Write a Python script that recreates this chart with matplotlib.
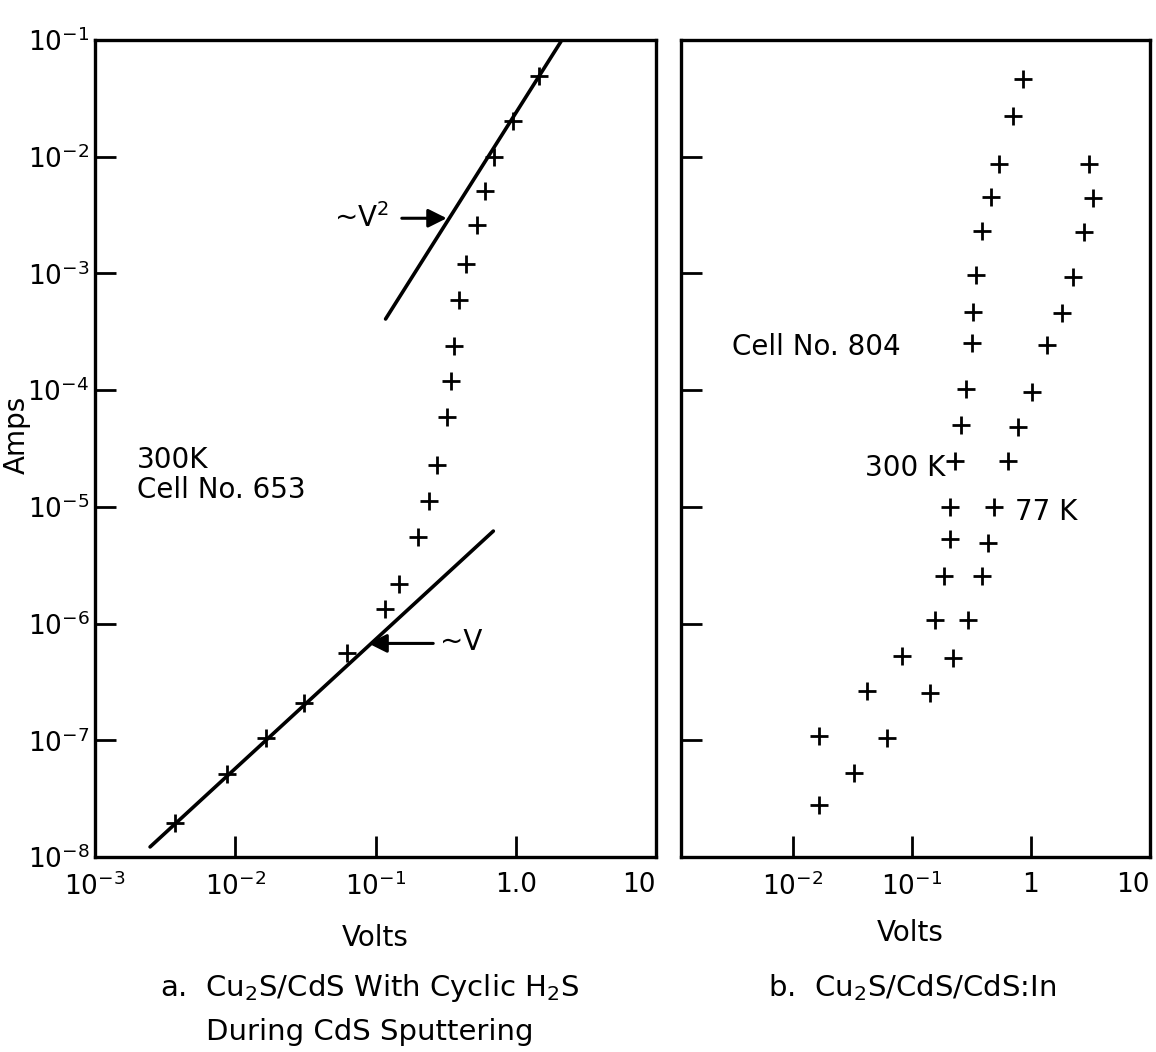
import numpy as np
import matplotlib
matplotlib.use("Agg")
import matplotlib.pyplot as plt
from matplotlib.ticker import FixedLocator, FixedFormatter, NullLocator

plt.rcParams['font.family'] = ['DejaVu Sans']
plt.rcParams['mathtext.fontset'] = 'dejavusans'

# ---------------- data: panel a (Cell No. 653, 300 K) ----------------
volts_a = [1.47, 0.957, 0.700, 0.601, 0.526, 0.441, 0.396, 0.365, 0.348, 0.321,
           0.276, 0.240, 0.200, 0.148, 0.116, 0.0628, 0.0308, 0.01655, 0.00873, 0.00373]
amps_a = [4.92e-2, 2.04e-2, 9.9e-3, 5.1e-3, 2.58e-3, 1.2e-3, 5.9e-4, 2.4e-4, 1.2e-4, 5.85e-5,
          2.28e-5, 1.12e-5, 5.5e-6, 2.2e-6, 1.33e-6, 5.6e-7, 2.07e-7, 1.04e-7, 5.13e-8, 1.94e-8]

# guide lines (end points)
v2_line_x = [0.118, 2.10]
v2_line_y = [4.07e-4, 0.097]
v1_line_x = [2.47e-3, 0.692]
v1_line_y = [1.22e-8, 6.2e-6]

# ---------------- data: panel b (Cell No. 804) ----------------
volts_300K = [0.861, 0.701, 0.538, 0.461, 0.387, 0.345, 0.324, 0.321, 0.284, 0.258,
              0.231, 0.210, 0.210, 0.187, 0.156, 0.0818, 0.0416, 0.0165]
amps_300K = [4.63e-2, 2.25e-2, 8.66e-3, 4.54e-3, 2.32e-3, 9.7e-4, 4.7e-4, 2.52e-4, 1.02e-4, 5.02e-5,
             2.48e-5, 9.9e-6, 5.27e-6, 2.57e-6, 1.07e-6, 5.3e-7, 2.65e-7, 1.09e-7]
volts_77K = [3.07, 3.34, 2.79, 2.27, 1.83, 1.37, 1.03, 0.782, 0.637, 0.492,
             0.438, 0.385, 0.297, 0.220, 0.142, 0.0612, 0.0327, 0.0165]
amps_77K = [8.66e-3, 4.40e-3, 2.25e-3, 9.4e-4, 4.55e-4, 2.43e-4, 9.7e-5, 4.8e-5, 2.48e-5, 9.9e-6,
            4.86e-6, 2.57e-6, 1.07e-6, 5.03e-7, 2.52e-7, 1.04e-7, 5.27e-8, 2.79e-8]

# ticks
y_ticks = [1e-8, 1e-7, 1e-6, 1e-5, 1e-4, 1e-3, 1e-2, 1e-1]
y_labels = [r'$10^{-8}$', r'$10^{-7}$', r'$10^{-6}$', r'$10^{-5}$',
            r'$10^{-4}$', r'$10^{-3}$', r'$10^{-2}$', r'$10^{-1}$']
xa_ticks = [1e-3, 1e-2, 1e-1, 1.0, 10.0]
xa_labels = [r'$10^{-3}$', r'$10^{-2}$', r'$10^{-1}$', '1.0', '10']
xb_ticks = [1e-2, 1e-1, 1.0, 10.0]
xb_labels = [r'$10^{-2}$', r'$10^{-1}$', '1', '10']

W, H = 1156, 1052
fig = plt.figure(figsize=(W / 100, H / 100), dpi=100)
axL = fig.add_axes([95 / W, (H - 857) / H, 561 / W, 817 / H])
axR = fig.add_axes([681 / W, (H - 857) / H, 469 / W, 817 / H])

FS = 20
FS_TICK = 19
FS_CAP = 21
for ax in (axL, axR):
    ax.set_xscale('log')
    ax.set_yscale('log')
    ax.set_ylim(1e-8, 1e-1)
    for sp in ax.spines.values():
        sp.set_linewidth(2.4)
    ax.xaxis.set_minor_locator(NullLocator())
    ax.yaxis.set_minor_locator(NullLocator())
    ax.yaxis.set_major_locator(FixedLocator(y_ticks))
    ax.tick_params(axis='both', which='major', direction='in', length=15, width=2,
                   top=False, right=False, labelsize=FS_TICK)
    ax.tick_params(axis='x', pad=11)
    ax.tick_params(axis='y', pad=4)

axL.set_xlim(1e-3, 10)
axR.set_xlim(10 ** -2.94, 10)

axL.yaxis.set_major_formatter(FixedFormatter(y_labels))
axR.yaxis.set_major_formatter(FixedFormatter([''] * len(y_ticks)))
axL.xaxis.set_major_locator(FixedLocator(xa_ticks))
axL.xaxis.set_major_formatter(FixedFormatter(xa_labels))
axR.xaxis.set_major_locator(FixedLocator(xb_ticks))
axR.xaxis.set_major_formatter(FixedFormatter(xb_labels))

mk = dict(linestyle='none', marker='+', ms=13, mew=2, color='k')

# panel a
axL.plot(v2_line_x, v2_line_y, color='k', lw=2.6, solid_capstyle='round')
axL.plot(v1_line_x, v1_line_y, color='k', lw=2.6, solid_capstyle='round')
axL.plot(volts_a, amps_a, **mk)

arrow = dict(arrowstyle='-|>', color='k', lw=2.2, mutation_scale=28, shrinkA=0, shrinkB=0)
axL.annotate('', xy=(0.322, 2.97e-3), xytext=(0.154, 2.97e-3), arrowprops=arrow)
axL.text(0.125, 2.97e-3, r'~V$^2$', fontsize=FS, ha='right', va='center')
axL.annotate('', xy=(0.0889, 6.76e-7), xytext=(0.258, 6.76e-7), arrowprops=arrow)
axL.text(0.29, 6.9e-7, '~V', fontsize=FS, ha='left', va='center')

axL.text(0.075, 0.486, '300K', transform=axL.transAxes, fontsize=FS, ha='left', va='center')
axL.text(0.075, 0.449, 'Cell No. 653', transform=axL.transAxes, fontsize=FS, ha='left', va='center')

# panel b
axR.plot(volts_300K, amps_300K, **mk)
axR.plot(volts_77K, amps_77K, **mk)
axR.text(0.108, 0.624, 'Cell No. 804', transform=axR.transAxes, fontsize=FS, ha='left', va='center')
axR.text(0.563, 0.476, '300 K', transform=axR.transAxes, fontsize=FS, ha='right', va='center')
axR.text(0.712, 0.422, '77 K', transform=axR.transAxes, fontsize=FS, ha='left', va='center')

# last x tick label ("10") sits inside the right edge, as in the reference
for ax in (axL, axR):
    labs = ax.get_xticklabels()
    labs[-1].set_horizontalalignment('right')

# axis labels and captions (figure pixel positions)
def ftext(x, y, s, size=FS, **kw):
    fig.text(x / W, 1 - y / H, s, fontsize=size, ha='center', va='center', **kw)

ftext(17, 435, 'Amps', rotation=90)
ftext(375, 938, 'Volts')
ftext(910, 933, 'Volts')
ftext(370, 988, r'a.  Cu$_2$S/CdS With Cyclic H$_2$S', size=FS_CAP)
ftext(370, 1032, 'During CdS Sputtering', size=FS_CAP)
ftext(912, 988, r'b.  Cu$_2$S/CdS/CdS:In', size=FS_CAP)

fig.savefig('out.png', dpi=100)
